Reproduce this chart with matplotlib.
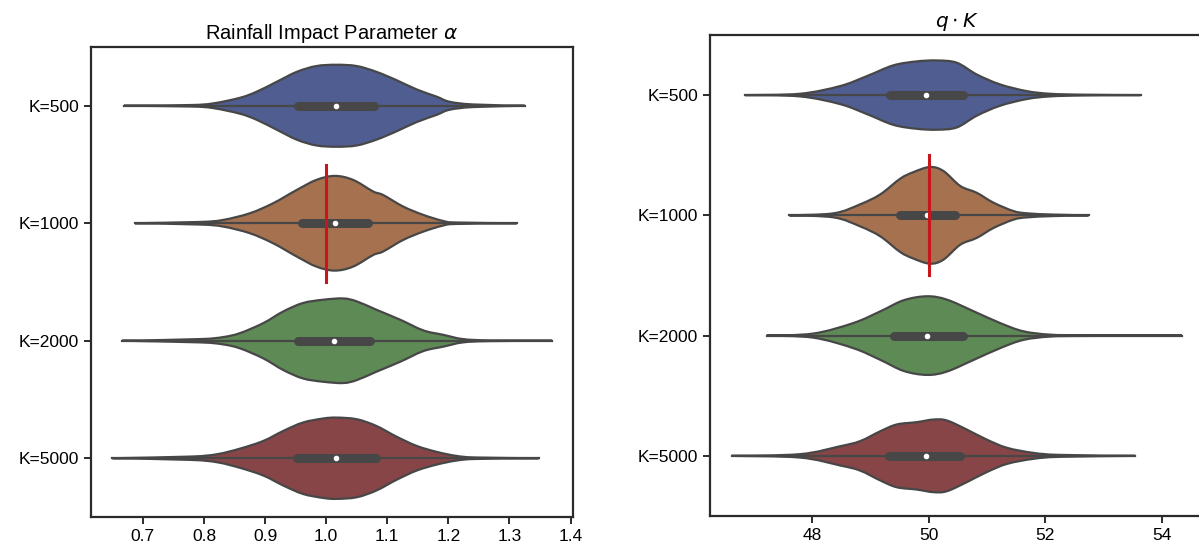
import numpy as np
import matplotlib.pyplot as plt
from matplotlib.path import Path
from matplotlib.patches import PathPatch

plt.rcParams['font.family'] = ['Liberation Sans', 'DejaVu Sans']
plt.rcParams['mathtext.fontset'] = 'dejavusans'

labels = ['K=500', 'K=1000', 'K=2000', 'K=5000']
colors = ['#4f5d91', '#a6714f', '#5e8a55', '#874548']
edge = '#474747'

# alpha: density profiles (value, half width in category units)
alpha_x = [
    [0.669, 0.777, 0.815, 0.859, 0.886, 0.919, 0.952, 0.984, 1.017, 1.050, 1.082, 1.115, 1.148, 1.181, 1.202, 1.241, 1.325],
    [0.687, 0.793, 0.831, 0.875, 0.913, 0.952, 0.984, 1.014, 1.044, 1.077, 1.093, 1.126, 1.159, 1.191, 1.213, 1.312],
    [0.666, 0.793, 0.831, 0.859, 0.897, 0.930, 0.962, 0.995, 1.028, 1.050, 1.082, 1.121, 1.159, 1.191, 1.224, 1.268, 1.370],
    [0.650, 0.777, 0.821, 0.859, 0.897, 0.930, 0.962, 0.995, 1.017, 1.050, 1.082, 1.115, 1.148, 1.181, 1.213, 1.246, 1.348],
]
alpha_w = [
    [0, 0.006, 0.020, 0.068, 0.119, 0.204, 0.289, 0.338, 0.349, 0.338, 0.289, 0.218, 0.139, 0.077, 0.034, 0.011, 0],
    [0, 0.011, 0.028, 0.085, 0.170, 0.284, 0.369, 0.403, 0.369, 0.270, 0.241, 0.142, 0.071, 0.020, 0.006, 0],
    [0, 0.014, 0.031, 0.065, 0.150, 0.250, 0.321, 0.349, 0.360, 0.335, 0.264, 0.179, 0.088, 0.051, 0.014, 0.003, 0],
    [0, 0.014, 0.034, 0.082, 0.147, 0.233, 0.304, 0.338, 0.346, 0.332, 0.275, 0.184, 0.105, 0.054, 0.020, 0.006, 0],
]
alpha_q1 = [0.954, 0.960, 0.954, 0.952]
alpha_med = [1.016, 1.015, 1.013, 1.016]
alpha_q3 = [1.078, 1.069, 1.072, 1.082]

# q*K
qk_x = [
    [46.85, 47.79, 48.48, 48.94, 49.39, 49.79, 50.14, 50.48, 50.82, 51.22, 51.68, 52.08, 52.65, 53.63],
    [47.61, 48.37, 48.82, 49.17, 49.51, 49.74, 50.02, 50.25, 50.54, 50.82, 51.11, 51.45, 51.68, 52.14, 52.74],
    [47.22, 48.02, 48.71, 49.17, 49.57, 49.97, 50.31, 50.77, 51.22, 51.62, 52.08, 52.65, 54.34],
    [46.62, 47.79, 48.48, 48.82, 49.17, 49.45, 49.79, 50.08, 50.31, 50.65, 50.99, 51.34, 51.79, 52.25, 53.54],
]
qk_w = [
    [0, 0.011, 0.075, 0.158, 0.247, 0.280, 0.288, 0.269, 0.172, 0.089, 0.033, 0.011, 0.003, 0],
    [0, 0.017, 0.091, 0.175, 0.305, 0.360, 0.402, 0.369, 0.244, 0.188, 0.105, 0.036, 0.017, 0.006, 0],
    [0, 0.017, 0.105, 0.202, 0.294, 0.327, 0.299, 0.202, 0.105, 0.036, 0.008, 0.003, 0],
    [0, 0.014, 0.080, 0.122, 0.205, 0.261, 0.280, 0.302, 0.294, 0.219, 0.136, 0.067, 0.025, 0.008, 0],
]
qk_q1 = [49.33, 49.50, 49.41, 49.32]
qk_med = [49.96, 49.97, 49.97, 49.95]
qk_q3 = [50.58, 50.45, 50.58, 50.54]

true_alpha = 1.0
true_qk = 50.0


def smooth_outline(pts):
    # cubic bezier segments through the outline points (catmull-rom tangents)
    p = np.vstack([pts[0], pts, pts[-1]])
    verts = [tuple(pts[0])]
    codes = [Path.MOVETO]
    for k in range(1, len(p) - 2):
        c1 = p[k] + (p[k + 1] - p[k - 1]) / 6.0
        c2 = p[k + 1] - (p[k + 2] - p[k]) / 6.0
        verts += [tuple(c1), tuple(c2), tuple(p[k + 1])]
        codes += [Path.CURVE4] * 3
    return verts, codes


def violin_patch(x, w, pos, color):
    upper = np.column_stack([x, pos - w])
    lower = np.column_stack([x[::-1], pos + w[::-1]])
    v1, c1 = smooth_outline(upper)
    v2, c2 = smooth_outline(lower)
    c2[0] = Path.LINETO
    verts = v1 + v2 + [v1[0]]
    codes = c1 + c2 + [Path.CLOSEPOLY]
    return PathPatch(Path(verts, codes), facecolor=color, edgecolor=edge,
                     linewidth=1.6, zorder=2)


def violins(ax, xs, ws, q1, med, q3, true_val, title, xlim, ticks):
    for i in range(len(labels)):
        x = np.array(xs[i], dtype=float)
        w = np.array(ws[i], dtype=float)
        ax.add_patch(violin_patch(x, w, i, colors[i]))
        ax.plot([x[0], x[-1]], [i, i], color=edge, lw=1.6, zorder=3)
        ax.plot([q1[i], q3[i]], [i, i], color=edge, lw=6.5,
                solid_capstyle='round', zorder=3)
        ax.scatter([med[i]], [i], s=9, color='white', zorder=4)
    ax.plot([true_val, true_val], [0.5, 1.5], color='#c8161d', lw=2.2, zorder=5)
    ax.set_yticks(range(len(labels)))
    ax.set_yticklabels(labels)
    ax.set_ylim(3.5, -0.5)
    ax.set_xlim(*xlim)
    ax.set_xticks(ticks)
    ax.set_title(title, fontsize=14.5, pad=6)
    for s in ax.spines.values():
        s.set_linewidth(1.6)
        s.set_color('#2b2b2b')
    ax.tick_params(axis='both', labelsize=12.5, length=5, width=1.4,
                   color='#2b2b2b', direction='out')


fig = plt.figure(figsize=(11.99, 5.55), dpi=100)
ax1 = fig.add_axes([0.0759, 0.0685, 0.402, 0.8468])
ax2 = fig.add_axes([0.5922, 0.0703, 0.4111, 0.8667])

violins(ax1, alpha_x, alpha_w, alpha_q1, alpha_med, alpha_q3, true_alpha,
        r'Rainfall Impact Parameter $\alpha$', (0.615, 1.404),
        [0.7, 0.8, 0.9, 1.0, 1.1, 1.2, 1.3, 1.4])
ax1.set_xticklabels(['0.7', '0.8', '0.9', '1.0', '1.1', '1.2', '1.3', '1.4'])
violins(ax2, qk_x, qk_w, qk_q1, qk_med, qk_q3, true_qk,
        r'$q \cdot K$', (46.25, 54.70), [48, 50, 52, 54])

fig.savefig('out.png', dpi=100)
